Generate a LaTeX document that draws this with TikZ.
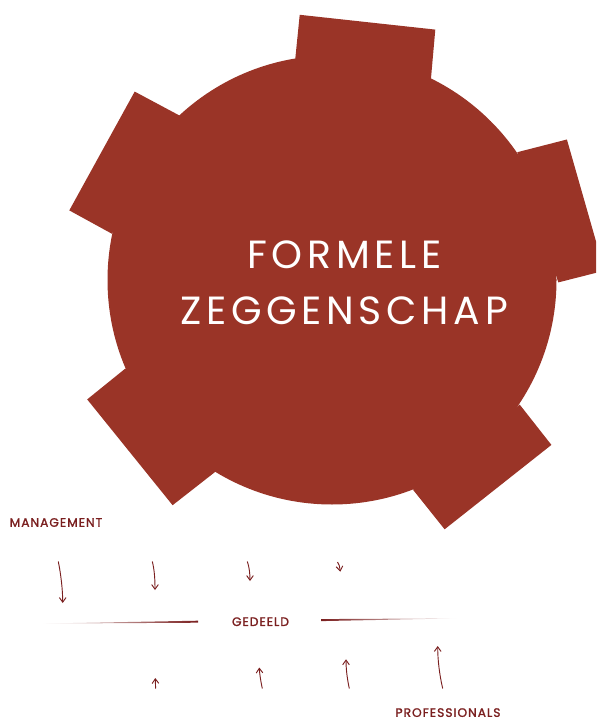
\documentclass[tikz,border=0pt]{standalone}
\usepackage{fontspec}
\setmainfont{Poppins}
\newfontfamily\bigfont[LetterSpace=12]{Poppins}
\newfontfamily\labfont[LetterSpace=8,FakeBold=1.5]{Poppins}
\usetikzlibrary{arrows.meta}
\definecolor{rust}{HTML}{9A3427}
\definecolor{darkred}{HTML}{7A1F1F}
\tikzset{
  tooth/.style={fill=rust, draw=none},
  title/.style={text=white, inner sep=0pt, font=\bigfont\fontsize{29.5}{30}\selectfont},
  lab/.style={text=darkred, inner sep=0pt, font=\labfont\fontsize{9.2}{10}\selectfont},
  arr/.style={draw=darkred, line width=0.7pt, -{Straight Barb[length=3.5pt,width=5pt,line width=0.7pt]}},
}
\begin{document}
\begin{tikzpicture}[x=0.75pt,y=-0.75pt]
\useasboundingbox (0,0) rectangle (596,720);
\begin{scope}
\clip (0,0) rectangle (596,720);
\fill[rust] (332,280) circle (224.5);
\fill[rust] (295.2,59.6) -- (299.7,14.8) -- (435.3,29.6) -- (430.9,79.2) -- cycle;
\fill[rust] (179.8,115.7) -- (134.7,91.6) -- (69.3,210.4) -- (112,233.8) -- cycle;
\fill[rust] (517.3,152.2) -- (566.9,139.5) -- (604.4,270.7) -- (558.3,282.4) -- cycle;
\fill[rust] (125.4,368.5) -- (87.2,399.4) -- (172.6,505.2) -- (215.3,471.8) -- cycle;
\fill[rust] (519.7,404.6) -- (551.4,444.9) -- (444.6,529.3) -- (413,489.7) -- cycle;
\end{scope}
\node[title] (t1) at (344.5,255) {FORMELE};
\node[title] (t2) at (344,311) {ZEGGENSCHAP};

\node[lab] (man) at (56,522.5) {MANAGEMENT};
\node[lab] (ged) at (260.5,621.7) {GEDEELD};
\node[lab] (pro) at (448,712.6) {PROFESSIONALS};

% tapered lines
\shade[left color=white, right color=darkred] (40,623.6) -- (198,620.7) -- (198,622.7) -- cycle;
\shade[left color=darkred, right color=white] (321,619.1) -- (321,621.1) -- (459,618.3) -- cycle;

% down arrows
\coordinate (a1s) at (58.3,561.5); \coordinate (a1e) at (62.7,603);
\coordinate (a2s) at (152.3,561.5); \coordinate (a2e) at (155,590);
\coordinate (a3s) at (247.3,561.5); \coordinate (a3e) at (250,581);
\coordinate (a4s) at (337.5,562); \coordinate (a4e) at (340.3,571.7);
\draw[arr] (a1s) .. controls (61,575) and (62.7,590) .. (a1e);
\draw[arr] (a2s) .. controls (154.5,570) and (155,580) .. (a2e);
\draw[arr] (a3s) .. controls (249.3,567) and (250,574) .. (a3e);
\draw[arr] (a4s) .. controls (339.3,565) .. (a4e);

% up arrows
\coordinate (b1s) at (155.6,688.5); \coordinate (b1e) at (155.3,678);
\coordinate (b2s) at (262.3,688.5); \coordinate (b2e) at (259.3,667.5);
\coordinate (b3s) at (349.3,688.5); \coordinate (b3e) at (346,659.3);
\coordinate (b4s) at (442.7,688.5); \coordinate (b4e) at (437.7,646);
\draw[arr] (b1s) -- (b1e);
\draw[arr] (b2s) .. controls (260.5,680) and (259.5,673) .. (b2e);
\draw[arr] (b3s) .. controls (347,678) and (346,668) .. (b3e);
\draw[arr] (b4s) .. controls (439.5,675) and (437.7,660) .. (b4e);
\end{tikzpicture}
\end{document}
